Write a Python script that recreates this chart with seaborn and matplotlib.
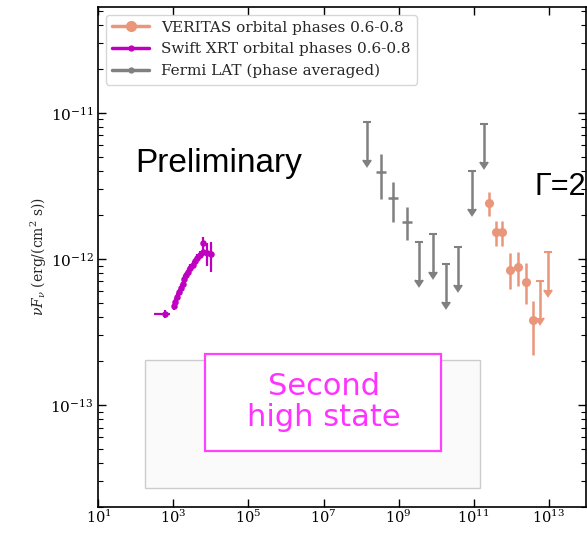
import numpy as np
import matplotlib
matplotlib.use("Agg")
import matplotlib.pyplot as plt
import seaborn as sns
import pandas as pd
from matplotlib.lines import Line2D
from matplotlib.patches import Rectangle
from matplotlib.ticker import (FixedLocator, NullLocator, NullFormatter,
                               LogFormatterSciNotation)

# ---- Swift XRT, orbital phases 0.6-0.8 (energy [eV], nuFnu [erg/cm2/s]) ----
swift_e = [593, 1031, 1117, 1216, 1376, 1557, 1759, 1945, 2154, 2387,
           2754, 3250, 3745, 4317, 5090, 6010, 6240, 7960, 9810]
swift_f = [4.2e-13, 4.74e-13, 5.1e-13, 5.47e-13, 5.91e-13, 6.3e-13, 6.74e-13,
           7.29e-13, 7.69e-13, 8.19e-13, 8.63e-13, 9.1e-13, 9.6e-13, 1.01e-12,
           1.06e-12, 1.12e-12, 1.29e-12, 1.10e-12, 1.08e-12]
swift_e_lo = [291, 30, 33, 36, 41, 47, 53, 58, 65, 72,
              83, 98, 112, 130, 153, 180, 187, 239, 294]
swift_e_hi = [222, 30, 33, 36, 41, 47, 53, 58, 65, 72,
              83, 98, 112, 130, 153, 180, 187, 239, 294]
swift_f_lo = [2.5e-14, 3.0e-14, 3.1e-14, 3.3e-14, 3.5e-14, 3.8e-14, 4.0e-14,
              4.4e-14, 4.6e-14, 4.9e-14, 5.2e-14, 5.5e-14, 5.8e-14, 6.1e-14,
              6.4e-14, 6.7e-14, 1.1e-13, 2.0e-13, 2.7e-13]
swift_f_hi = [2.5e-14, 3.0e-14, 3.1e-14, 3.3e-14, 3.5e-14, 3.8e-14, 4.0e-14,
              4.4e-14, 4.6e-14, 4.9e-14, 5.2e-14, 5.5e-14, 5.8e-14, 6.1e-14,
              6.4e-14, 6.7e-14, 1.1e-13, 1.9e-13, 2.2e-13]

# ---- Fermi LAT, phase averaged: flux points and upper limits ----
fermi_e = [3.35e8, 7.26e8, 1.66e9]
fermi_f = [3.93e-12, 2.61e-12, 1.80e-12]
fermi_e_lo = [0.88e8, 1.92e8, 0.44e9]
fermi_e_hi = [1.20e8, 2.61e8, 0.60e9]
fermi_f_lo = [1.38e-12, 0.81e-12, 0.45e-12]
fermi_f_hi = [1.31e-12, 0.77e-12, 0.45e-12]
fermi_ul_e = [1.47e8, 3.59e9, 8.17e9, 1.81e10, 3.93e10, 8.96e10, 1.91e11]
fermi_ul_f = [8.63e-12, 1.30e-12, 1.47e-12, 9.24e-13, 1.20e-12, 3.99e-12, 8.41e-12]

# ---- VERITAS, orbital phases 0.6-0.8 ----
ver_e = [2.59e11, 3.91e11, 5.86e11, 9.4e11, 1.57e12, 2.51e12, 3.79e12]
ver_f = [2.41e-12, 1.52e-12, 1.52e-12, 8.45e-13, 8.77e-13, 6.92e-13, 3.84e-13]
ver_f_lo = [0.45e-12, 0.30e-12, 0.30e-12, 2.21e-13, 2.21e-13, 2.00e-13, 1.66e-13]
ver_f_hi = [0.45e-12, 0.31e-12, 0.31e-12, 2.55e-13, 2.43e-13, 2.47e-13, 1.34e-13]
ver_ul_e = [5.93e12, 9.88e12]
ver_ul_f = [7.1e-13, 1.12e-12]

labels = ["VERITAS orbital phases 0.6-0.8",
          "Swift XRT orbital phases 0.6-0.8",
          "Fermi LAT (phase averaged)"]
x_ticks = [1e1, 1e3, 1e5, 1e7, 1e9, 1e11, 1e13]
y_ticks = [1e-13, 1e-12, 1e-11]

VER_C = "#E9967A"
SWIFT_C = "#C000C0"
FERMI_C = "#808080"
UL_FRAC = 0.45  # length of the upper-limit arrows, as a fraction of the value

sns.set_theme(style="ticks", rc={
    "xtick.direction": "in", "ytick.direction": "in",
    "xtick.top": True, "ytick.right": True,
    "axes.edgecolor": "black", "xtick.color": "black", "ytick.color": "black",
    "axes.linewidth": 1.2,
})
plt.rcParams["font.family"] = ["DejaVu Serif"]
plt.rcParams["mathtext.fontset"] = "dejavuserif"

fig = plt.figure(figsize=(5.87, 5.34), dpi=100)
ax = fig.add_axes([0.1678, 0.0506, 0.8305, 0.9363])
ax.set_xscale("log")
ax.set_yscale("log")
ax.set_xlim(1e1, 1e14)
ax.set_ylim(2.0e-14, 5.3e-11)

# Swift XRT
ax.errorbar(swift_e, swift_f, xerr=[swift_e_lo, swift_e_hi],
            yerr=[swift_f_lo, swift_f_hi], fmt="none",
            ecolor=SWIFT_C, elinewidth=1.6, zorder=3)
swift_df = pd.DataFrame({"energy": swift_e, "flux": swift_f})
sns.scatterplot(data=swift_df, x="energy", y="flux", color=SWIFT_C, s=22,
                linewidth=0, ax=ax, legend=False, zorder=4)

# Fermi LAT
ax.errorbar(fermi_e, fermi_f, xerr=[fermi_e_lo, fermi_e_hi],
            yerr=[fermi_f_lo, fermi_f_hi], fmt=".", ms=3, color=FERMI_C,
            elinewidth=1.8, capsize=0, zorder=3)
ax.errorbar(fermi_ul_e, fermi_ul_f, yerr=UL_FRAC * np.array(fermi_ul_f),
            uplims=True, fmt="none", color=FERMI_C, ecolor=FERMI_C,
            elinewidth=1.8, capsize=3, capthick=1.5, zorder=3)

# VERITAS
ver_e_arr = np.array(ver_e)
ax.errorbar(ver_e, ver_f, xerr=[0.17 * ver_e_arr, 0.2 * ver_e_arr],
            yerr=[ver_f_lo, ver_f_hi], fmt="o", ms=5.5, color=VER_C,
            elinewidth=1.8, capsize=0, zorder=3)
ax.errorbar(ver_ul_e, ver_ul_f, yerr=UL_FRAC * np.array(ver_ul_f),
            uplims=True, fmt="none", color=VER_C, ecolor=VER_C,
            elinewidth=1.8, capsize=3, capthick=1.5, zorder=3)

# axes ticks and labels
ax.xaxis.set_major_locator(FixedLocator(x_ticks))
ax.xaxis.set_major_formatter(LogFormatterSciNotation())
ax.xaxis.set_minor_locator(NullLocator())
ax.yaxis.set_major_locator(FixedLocator(y_ticks))
ax.yaxis.set_major_formatter(LogFormatterSciNotation())
ax.yaxis.set_minor_formatter(NullFormatter())
ax.tick_params(which="major", length=6, width=1, labelsize=11)
ax.tick_params(axis="x", which="major", pad=1.5, labelsize=10.5)
ax.tick_params(which="minor", length=3.5, width=0.8)
ax.set_xlabel("")
ax.set_ylabel(r"$\nu F_\nu$ (erg/(cm$^2$ s))", fontsize=10, labelpad=1)

# legend
handles = [
    Line2D([], [], color=VER_C, lw=2.5, marker="o", ms=7),
    Line2D([], [], color=SWIFT_C, lw=2.5, marker="o", ms=3.5),
    Line2D([], [], color=FERMI_C, lw=2.5, marker="o", ms=3.5),
]
ax.legend(handles, labels, loc="upper left", fontsize=11, handlelength=2.4,
          frameon=True, fancybox=True, edgecolor="0.8", framealpha=0.8)

# annotations
ax.text(0.075, 0.67, "Preliminary", transform=ax.transAxes, fontsize=24,
        family="Liberation Sans", color="black", va="baseline")
ax.text(0.895, 0.624, "Γ=2", transform=ax.transAxes, fontsize=22,
        family="Liberation Sans", color="black", va="baseline", clip_on=False)

ax.add_patch(Rectangle((0.095, 0.038), 0.688, 0.256, transform=ax.transAxes,
                       facecolor="#fafafa", edgecolor="#cccccc", lw=1, zorder=1))
ax.add_patch(Rectangle((0.2185, 0.112), 0.4841, 0.194, transform=ax.transAxes,
                       facecolor="white", edgecolor="#ff40ff", lw=1.6, zorder=2))
ax.text(0.462, 0.21, "Second\nhigh state", transform=ax.transAxes,
        ha="center", va="center", fontsize=22, color="#ff33ff",
        family="DejaVu Sans", linespacing=1.1, zorder=3)

fig.savefig("out.png", dpi=100)
